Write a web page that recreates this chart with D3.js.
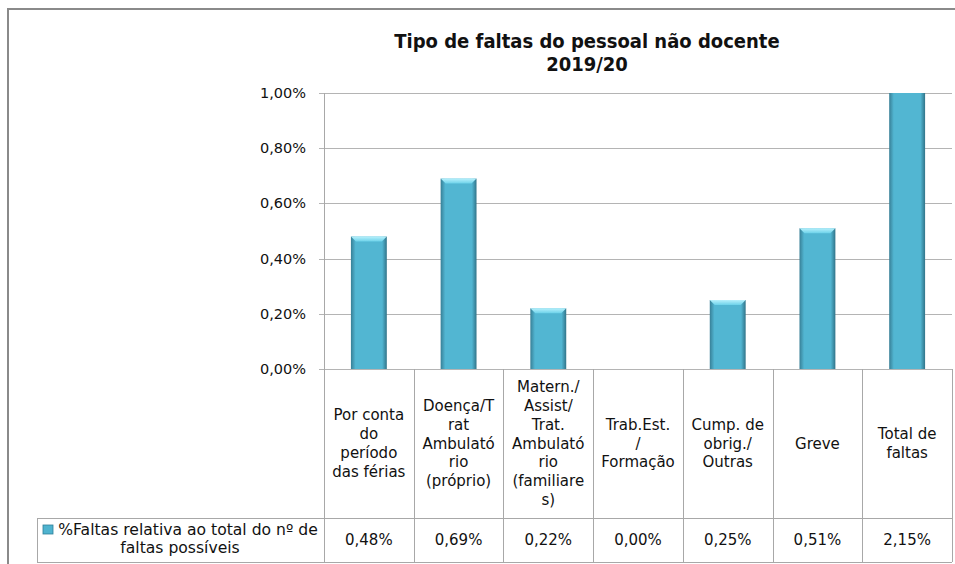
<!DOCTYPE html>
<html lang="pt">
<head>
  <meta charset="UTF-8">
  <title>Tipo de faltas do pessoal não docente 2019/20</title>
  <script src="https://d3js.org/d3.v7.min.js"></script>
  <style>
    body { margin: 0; background: #fff; }
    svg { display: block; font-family: "DejaVu Sans", sans-serif; }
    .grid line { stroke: #b4b4b4; stroke-width: 1; }
    .tbl line { stroke: #a8a8a8; stroke-width: 1; shape-rendering: crispEdges; }
    .tick-lbl { font-size: 14.5px; fill: #111; }
    .cat-lbl, .val-lbl { font-size: 15px; fill: #111; }
    .leg-lbl { font-size: 15.6px; fill: #111; }
    .title { font-family: "DejaVu Sans Condensed", "DejaVu Sans", sans-serif; font-weight: bold; font-size: 20px; fill: #111; }
  </style>
</head>
<body>
<svg width="955" height="564"></svg>
<script>
  // chart data
  const categories = [
    ["Por conta", "do", "período", "das férias"],
    ["Doença/T", "rat", "Ambulató", "rio", "(próprio)"],
    ["Matern./", "Assist/", "Trat.", "Ambulató", "rio", "(familiare", "s)"],
    ["Trab.Est.", "/", "Formação"],
    ["Cump. de", "obrig./", "Outras"],
    ["Greve"],
    ["Total de", "faltas"]
  ];
  const values = [0.48, 0.69, 0.22, 0.00, 0.25, 0.51, 2.15];
  const yTicks = [0, 0.2, 0.4, 0.6, 0.8, 1.0];
  const seriesName = ["%Faltas relativa ao total do nº de", "faltas possíveis"];
  const titleLines = ["Tipo de faltas do pessoal não docente", "2019/20"];

  const plot = { left: 324, right: 952, top: 93, bottom: 369 };
  const tableBottom = 562, headerBottom = 518, legendLeft = 37;

  const pt = d3.formatLocale({ decimal: ",", thousands: ".", grouping: [3], currency: ["", "€"] });
  const fmt = v => pt.format(".2f")(v) + "%";

  const svg = d3.select("svg");
  const defs = svg.append("defs");

  // gradients to mimic the bevelled bars
  const side = defs.append("linearGradient").attr("id", "barSide")
    .attr("x1", 0).attr("x2", 1).attr("y1", 0).attr("y2", 0);
  [["0%", "#377f96"], ["13%", "#52b6d2"], ["87%", "#52b6d2"], ["100%", "#317489"]]
    .forEach(s => side.append("stop").attr("offset", s[0]).attr("stop-color", s[1]));
  const topG = defs.append("linearGradient").attr("id", "barTop")
    .attr("x1", 0).attr("x2", 0).attr("y1", 0).attr("y2", 1);
  [["0%", "#b8f1fc"], ["100%", "#6cd2ea"]]
    .forEach(s => topG.append("stop").attr("offset", s[0]).attr("stop-color", s[1]));
  defs.append("clipPath").attr("id", "plotClip").append("rect")
    .attr("x", plot.left).attr("y", plot.top)
    .attr("width", plot.right - plot.left).attr("height", plot.bottom - plot.top);

  // outer chart border (runs off the page on the right / bottom)
  svg.append("rect").attr("x", 8).attr("y", 9).attr("width", 1000).attr("height", 600)
    .attr("fill", "none").attr("stroke", "#8a8a8a").attr("stroke-width", 2);

  // title
  svg.append("text").attr("class", "title").attr("text-anchor", "middle")
    .selectAll("tspan").data(titleLines).join("tspan")
    .attr("x", 587).attr("y", (d, i) => 48 + i * 23).text(d => d);

  const x = d3.scaleBand().domain(d3.range(values.length)).range([plot.left, plot.right]).padding(0);
  const y = d3.scaleLinear().domain([0, 1]).range([plot.bottom, plot.top]);

  // gridlines
  svg.append("g").attr("class", "grid")
    .selectAll("line").data(yTicks).join("line")
    .attr("x1", plot.left - 5).attr("x2", plot.right)
    .attr("y1", d => Math.round(y(d)) + 0.5).attr("y2", d => Math.round(y(d)) + 0.5);

  // y axis labels
  svg.append("g").selectAll("text").data(yTicks).join("text")
    .attr("class", "tick-lbl").attr("text-anchor", "end")
    .attr("x", 306).attr("y", d => y(d) + 5).text(d => fmt(d));

  // bars
  const bw = x.bandwidth() * 0.4;
  const bars = svg.append("g").attr("clip-path", "url(#plotClip)")
    .selectAll("g").data(values).join("g")
    .attr("transform", (d, i) => `translate(${x(i) + (x.bandwidth() - bw) / 2},0)`);
  bars.filter(d => d > 0).append("rect")
    .attr("x", 0).attr("width", bw)
    .attr("y", d => y(d)).attr("height", d => plot.bottom - y(d))
    .attr("fill", "url(#barSide)");
  bars.filter(d => d > 0 && d <= 1).append("path")
    .attr("d", d => {
      const t = y(d), b = 5;
      return `M0,${t}L${bw},${t}L${bw - b},${t + b}L${b},${t + b}Z`;
    })
    .attr("fill", "url(#barTop)");

  // data table
  const tbl = svg.append("g").attr("class", "tbl");
  const bounds = d3.range(values.length + 1).map(i => i < values.length ? x(i) : plot.right);
  tbl.selectAll("line.v").data(bounds).join("line")
    .attr("x1", d => Math.round(d) + 0.5).attr("x2", d => Math.round(d) + 0.5)
    .attr("y1", (d, i) => i === 0 ? plot.top : plot.bottom).attr("y2", tableBottom);
  tbl.append("line").attr("x1", legendLeft).attr("x2", plot.right)
    .attr("y1", headerBottom + 0.5).attr("y2", headerBottom + 0.5);
  tbl.append("line").attr("x1", legendLeft).attr("x2", plot.right)
    .attr("y1", tableBottom + 0.5).attr("y2", tableBottom + 0.5);
  tbl.append("line").attr("x1", legendLeft + 0.5).attr("x2", legendLeft + 0.5)
    .attr("y1", headerBottom).attr("y2", tableBottom);

  // category labels
  const lh = 18.8, midH = (plot.bottom + headerBottom) / 2;
  svg.append("g").selectAll("text").data(categories).join("text")
    .attr("class", "cat-lbl").attr("text-anchor", "middle")
    .each(function(lines, i) {
      const y0 = midH - (lines.length - 1) * lh / 2 + 5;
      d3.select(this).selectAll("tspan").data(lines).join("tspan")
        .attr("x", x(i) + x.bandwidth() / 2).attr("y", (d, k) => y0 + k * lh).text(d => d);
    });

  // values row
  const midV = (headerBottom + tableBottom) / 2;
  svg.append("g").selectAll("text").data(values).join("text")
    .attr("class", "val-lbl").attr("text-anchor", "middle")
    .attr("x", (d, i) => x(i) + x.bandwidth() / 2).attr("y", midV + 5).text(d => fmt(d));

  // legend cell
  svg.append("rect").attr("x", 43).attr("y", 525).attr("width", 10).attr("height", 9)
    .attr("fill", "#4fb3cf").attr("stroke", "#2f7f98").attr("stroke-width", 0.8);
  svg.append("text").attr("class", "leg-lbl").attr("text-anchor", "middle")
    .selectAll("tspan").data(seriesName).join("tspan")
    .attr("x", (d, i) => i === 0 ? 188 : 180).attr("y", (d, i) => 535 + i * 17.5).text(d => d);
</script>
</body>
</html>
